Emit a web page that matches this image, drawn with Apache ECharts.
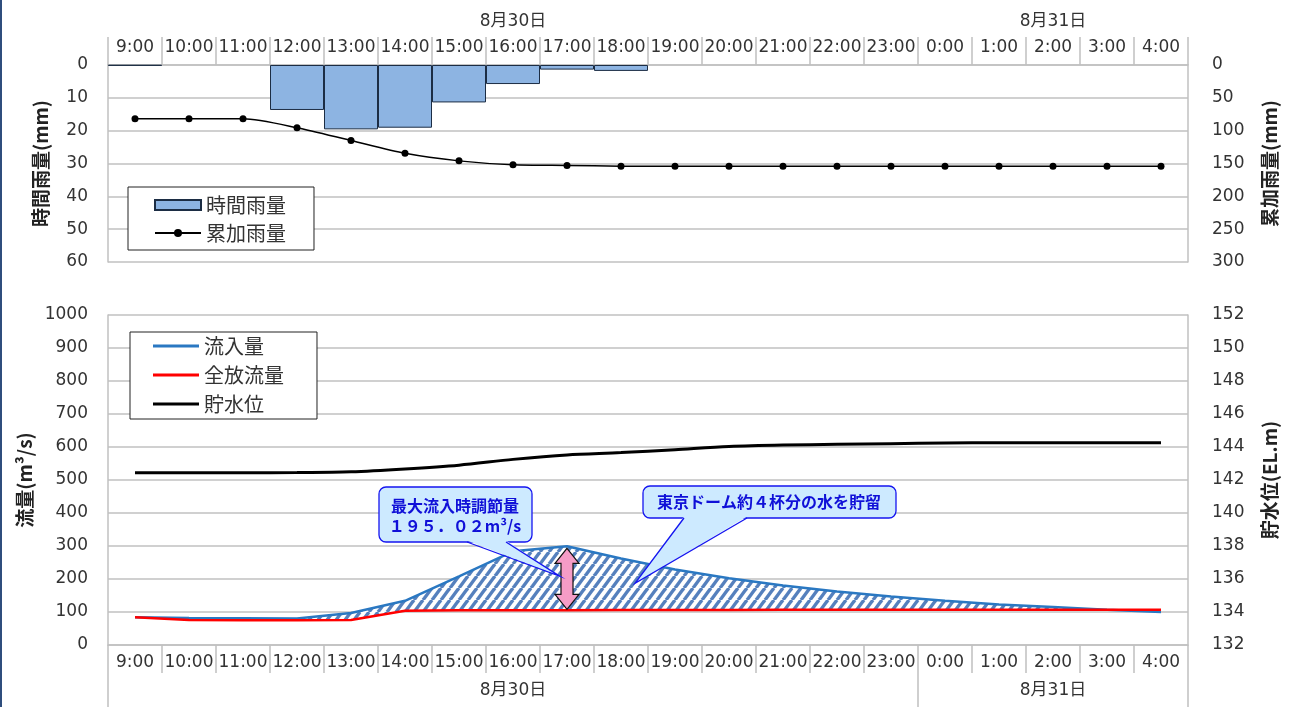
<!DOCTYPE html>
<html><head><meta charset="utf-8">
<script src="https://cdn.jsdelivr.net/npm/echarts@6/dist/echarts.min.js"></script>
<style>
html,body{margin:0;padding:0;background:#fff;}
#c{width:1292px;height:707px;}
#frameL{position:absolute;left:0;top:0;width:2px;height:707px;background:#2f4d7d;}
</style></head><body>
<div id="c"></div><div id="frameL"></div>
<script>
// ---------------- data ----------------
const times = ['9:00','10:00','11:00','12:00','13:00','14:00','15:00','16:00','17:00','18:00','19:00','20:00','21:00','22:00','23:00','0:00','1:00','2:00','3:00','4:00'];
const dayOfTime = ['8月30日','8月30日','8月30日','8月30日','8月30日','8月30日','8月30日','8月30日','8月30日','8月30日','8月30日','8月30日','8月30日','8月30日','8月30日','8月31日','8月31日','8月31日','8月31日','8月31日'];
const hourlyRain = [0.2, 0, 0, 13.7, 19.6, 19.1, 11.4, 5.8, 1.4, 1.8, 0, 0, 0, 0, 0, 0, 0, 0, 0, 0];
const cumRain = [82, 82, 82, 95.5, 115, 134.5, 146, 152, 153, 154, 154, 154, 154, 154, 154, 154, 154, 154, 154, 154];
const inflow = [84, 82, 81, 80, 97, 134, 208, 284, 299, 262, 229, 202, 180, 162, 147, 134, 123, 115, 107, 100];
const outflow = [84, 76, 75, 75, 76, 104, 105, 105, 105, 106, 106, 106, 107, 107, 107, 107, 107, 107, 107, 107];
const waterLevel = [142.44, 142.44, 142.44, 142.45, 142.5, 142.67, 142.9, 143.25, 143.52, 143.66, 143.84, 144.03, 144.12, 144.16, 144.2, 144.24, 144.26, 144.26, 144.26, 144.26];
const callout1Lines = ['最大流入時調節量', '１９５．０２m³/s'];
const callout2Text = '東京ドーム約４杯分の水を貯留';

// ---------------- style ----------------
const NUM_FONT = "'DejaVu Sans','Noto Sans CJK JP',sans-serif";
const CJK_FONT = "'Noto Sans CJK JP',sans-serif";
const TXT = '#333';
const GRID_C = '#c0c0c0';

// hatch pattern
const pat = document.createElement('canvas');
pat.width = 9; pat.height = 12;
(function(){
  const g = pat.getContext('2d');
  g.fillStyle = '#ffffff'; g.fillRect(0,0,9,12);
  g.strokeStyle = '#5580bd'; g.lineWidth = 3.4;
  [[-9],[0],[9]].forEach(([o])=>{ g.beginPath(); g.moveTo(o,12); g.lineTo(o+9,0); g.stroke(); });
})();

const chart = echarts.init(document.getElementById('c'), null, {renderer:'canvas'});

function timeAxis(grid, pos){
  return {gridIndex:grid, type:'category', data:times, position:pos, boundaryGap:true,
    axisLine:{show:true, lineStyle:{color:GRID_C, width:1.5}},
    axisTick:{show:true, interval:0, length:28, lineStyle:{color:GRID_C, width:1.5}},
    axisLabel:{interval:0, margin:9, fontSize:17, color:TXT, fontFamily:NUM_FONT},
    splitLine:{show:false}};
}
function dateAxis(grid, pos, tickLen, margin){
  return {gridIndex:grid, type:'category', data:times, position:pos, offset:28, boundaryGap:true,
    axisLine:{show:false},
    axisTick:{show:true, interval:(i)=> i===0 || dayOfTime[i]!==dayOfTime[i-1], length:tickLen, lineStyle:{color:GRID_C, width:1.5}},
    axisLabel:{interval:(i)=>{ const d=dayOfTime[i]; const f=dayOfTime.indexOf(d), l=dayOfTime.lastIndexOf(d); return i===Math.ceil((f+l)/2); },
      formatter:(v,i)=>dayOfTime[i], margin:margin, fontSize:17, color:TXT, fontFamily:NUM_FONT},
    splitLine:{show:false}};
}
function valAxis(grid, pos, min, max, interval, name, inverse, split, gap, margin){
  return {gridIndex:grid, type:'value', position:pos, min:min, max:max, interval:interval, inverse:inverse,
    name:name, nameLocation:'middle', nameGap:gap,
    nameTextStyle:{fontSize:19, fontWeight:'bold', color:'#222', fontFamily:CJK_FONT},
    axisLine:{show:true, lineStyle:{color:GRID_C, width:1.5}},
    axisTick:{show:false},
    axisLabel:{margin:margin, fontSize:17, color:TXT, fontFamily:NUM_FONT, formatter:(v)=>String(v)},
    splitLine:{show:split, lineStyle:{color:GRID_C, width:1.5}}};
}
const legendBase = {orient:'vertical', borderColor:'#222', borderWidth:1, backgroundColor:'#fff',
  itemWidth:46, itemHeight:10, textStyle:{fontSize:20, color:TXT, fontFamily:CJK_FONT, lineHeight:20}};

const option = {
  animation:false,
  backgroundColor:'#fff',
  grid:[{left:108, top:65, width:1080, height:197}, {left:108, top:315, width:1080, height:330}],
  xAxis:[ timeAxis(0,'top'), dateAxis(0,'top',27,7), timeAxis(1,'bottom'), dateAxis(1,'bottom',34,9) ],
  yAxis:[
    valAxis(0,'left',0,60,10,'時間雨量(mm)',true,true,58,20),
    valAxis(0,'right',0,300,50,'累加雨量(mm)',true,false,72,24),
    valAxis(1,'left',0,1000,100,'流量(m³/s)',false,true,58,20),
    valAxis(1,'right',132,152,2,'貯水位(EL.m)',false,false,72,24)
  ],
  legend:[
    Object.assign({}, legendBase, {data:[{name:'時間雨量',icon:'rect'},{name:'累加雨量'}], left:128, top:187, itemGap:8, padding:[8,28,7,26]}),
    Object.assign({}, legendBase, {data:[{name:'流入量',icon:'rect'},{name:'全放流量',icon:'rect'},{name:'貯水位',icon:'rect'}],
      itemHeight:3, left:130, top:332, itemGap:9, padding:[4,33,5,23]})
  ],
  series:[
    {name:'時間雨量', type:'bar', xAxisIndex:0, yAxisIndex:0, data:hourlyRain.map(v=>v>0?v:'-'),
      barCategoryGap:'0%', itemStyle:{color:'#8db4e2', borderColor:'#1c2d44', borderWidth:1}},
    {name:'累加雨量', type:'line', xAxisIndex:0, yAxisIndex:1, data:cumRain, smooth:0.25,
      symbol:'circle', symbolSize:7, color:'#000', itemStyle:{color:'#000'}, lineStyle:{color:'#000', width:1.5}},
    {name:'_base', type:'line', xAxisIndex:2, yAxisIndex:2, stack:'st', data:outflow, symbol:'none',
      lineStyle:{width:0, opacity:0}, silent:true, z:1},
    {name:'_fill', type:'line', xAxisIndex:2, yAxisIndex:2, stack:'st',
      data:inflow.map((v,i)=>Math.max(v-outflow[i],0)), symbol:'none',
      lineStyle:{width:0, opacity:0}, areaStyle:{color:{image:pat, repeat:'repeat'}, opacity:1}, silent:true, z:1},
    {name:'流入量', type:'line', xAxisIndex:2, yAxisIndex:2, data:inflow, symbol:'none', color:'#2a78c2',
      lineStyle:{color:'#2a78c2', width:2.5}, z:3},
    {name:'全放流量', type:'line', xAxisIndex:2, yAxisIndex:2, data:outflow, symbol:'none', color:'#ff0000',
      lineStyle:{color:'#ff0000', width:2.5}, z:4},
    {name:'貯水位', type:'line', xAxisIndex:2, yAxisIndex:3, data:waterLevel, symbol:'none', smooth:0.3, color:'#000',
      lineStyle:{color:'#000', width:3}, z:4}
  ]
};
chart.setOption(option);

// ---------------- annotations ----------------
const peakIdx = inflow.indexOf(Math.max.apply(null, inflow));
const pTop = chart.convertToPixel({xAxisIndex:2, yAxisIndex:2}, [peakIdx, inflow[peakIdx]]);
const pBot = chart.convertToPixel({xAxisIndex:2, yAxisIndex:2}, [peakIdx, outflow[peakIdx]]);
const ax = pTop[0], yT = pTop[1] + 2, yB = pBot[1] - 1;
const hw = 12, sw = 6, hl = 15;
const arrow = {type:'polygon', z:50, shape:{points:[
  [ax,yT],[ax+hw,yT+hl],[ax+sw,yT+hl],[ax+sw,yB-hl],[ax+hw,yB-hl],[ax,yB],[ax-hw,yB-hl],[ax-sw,yB-hl],[ax-sw,yT+hl],[ax-hw,yT+hl]]},
  style:{fill:'#f59cc6', stroke:'#111', lineWidth:1.2}};

function callout(bx, by, bw, bh, t1, t2, tip, texts){
  const fill = '#cdeaff', stroke = '#1515f0';
  const els = [];
  els.push({type:'rect', z:50, shape:{x:bx, y:by, width:bw, height:bh, r:7}, style:{fill:fill, stroke:stroke, lineWidth:1.3}});
  els.push({type:'polygon', z:51, shape:{points:[[t1,by+bh-1.5],[tip[0],tip[1]],[t2,by+bh-1.5]]}, style:{fill:fill}});
  els.push({type:'polyline', z:52, shape:{points:[[t1,by+bh],[tip[0],tip[1]],[t2,by+bh]]}, style:{stroke:stroke, lineWidth:1.3, fill:null}});
  texts.forEach(t=>{
    els.push({type:'text', z:53, x:t.x, y:t.y, style:{text:t.s, fill:'#1010d8', font:"bold 16px 'Noto Sans CJK JP'", align:'center', verticalAlign:'middle'}});
  });
  return els;
}
const c1 = callout(379, 487, 153, 55, 467, 506, [ax-7, yT+28], [
  {s:callout1Lines[0], x:455, y:506}, {s:callout1Lines[1], x:455, y:526}]);
const c2 = callout(643, 486, 253, 32, 684, 747, [ax+68, yT+35], [{s:callout2Text, x:769, y:502}]);

chart.setOption({graphic:[].concat(c1, c2, [arrow])});
</script></body></html>
